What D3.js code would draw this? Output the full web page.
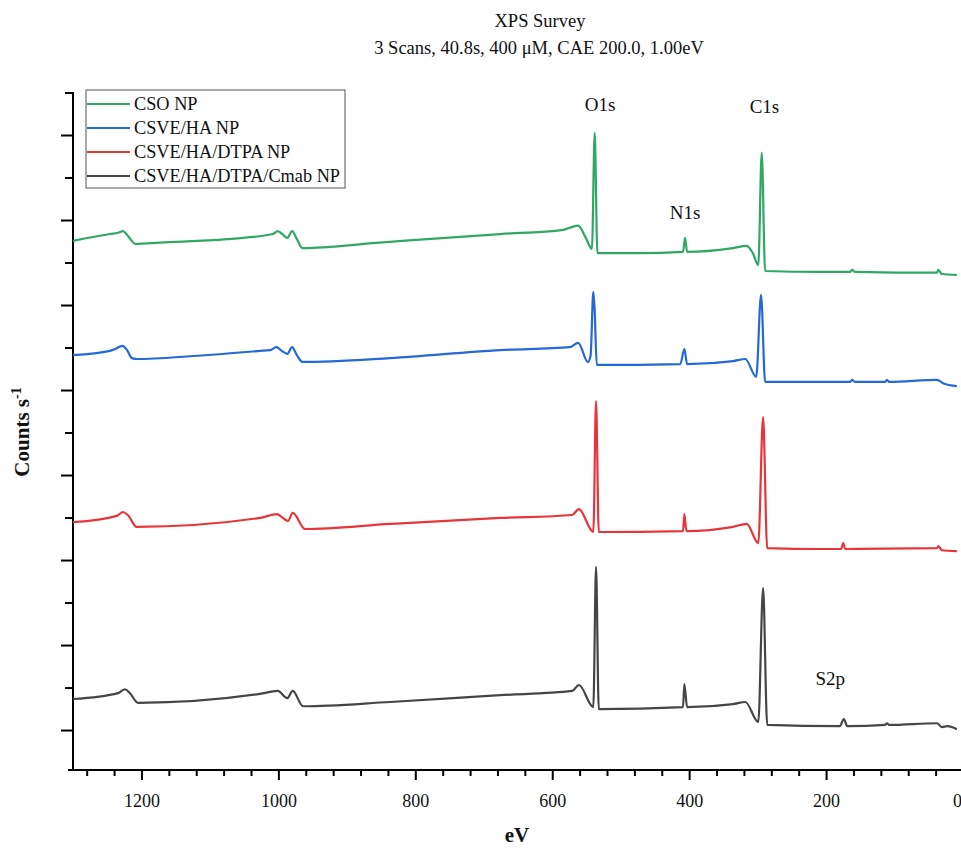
<!DOCTYPE html>
<html>
<head>
<meta charset="utf-8">
<script src="https://cdn.jsdelivr.net/npm/d3@7"></script>
<style>
  body { margin: 0; background: #fff; }
  text { font-family: "Liberation Serif", "Times New Roman", serif; fill: #111; }
  .axis path, .axis line { stroke: #000; stroke-width: 2; }
  .axis text { font-family: "Liberation Serif", "Times New Roman", serif; font-size: 18px; }
  .spec { fill: none; stroke-width: 2.2; stroke-linejoin: round; }
</style>
</head>
<body>
<div class="container"></div>
<script>
var width = 961,
    height = 850;

// spectra, [binding energy eV, counts s-1 (thousands)]
var cso = [[1300,125.1],[1246,126.7],[1234,127.0],[1227,127.4],[1220,126.3],[1209,124.4],[1173,124.7],
  [1075,125.5],[1008,126.7],[1001,127.4],[993,126.5],[987,125.8],[980,127.4],[973,125.5],[965,123.4],
  [852,124.7],[676,126.7],[584,127.7],[574,128.2],[562,128.7],[551,125.8],[542,123.2],[538,150.5],
  [534,122.2],[472,122.2],[409,122.5],[406,125.8],[403,122.5],[336,123.4],[316,123.9],[307,122.2],
  [299,119.4],[294,145.8],[289,118.0],[209,117.8],[165,117.8],[162,118.3],[158,117.8],[38,117.6],
  [36,118.3],[31,117.3],[9,117.1]];

var csveHa = [[1300,98.2],[1246,99.2],[1239,99.6],[1228,100.4],[1221,99.4],[1214,97.5],[1207,97.3],
  [1125,98.0],[1027,99.2],[1012,99.4],[1003,100.1],[995,99.2],[987,98.5],[980,100.1],[973,98.2],
  [965,96.6],[837,97.5],[676,99.4],[574,100.1],[562,101.1],[548,96.6],[544,98.0],[540,113.1],
  [538,108.8],[535,95.9],[413,96.1],[407,99.6],[403,96.1],[336,96.8],[318,97.3],[302,93.1],
  [295,112.4],[289,91.9],[165,91.9],[162,92.4],[158,91.9],[114,91.9],[111,92.4],[108,91.9],
  [38,92.4],[29,91.6],[9,90.9]];

var csveHaDtpa = [[1300,58.9],[1236,60.4],[1227,61.3],[1220,60.6],[1207,57.8],[1027,59.9],[1002,60.8],
  [995,60.1],[986,59.2],[979,61.1],[961,57.3],[837,58.5],[676,59.9],[571,60.6],[561,62.0],[540,56.6],
  [536,87.4],[532,56.6],[409,56.8],[407,60.8],[404,56.8],[336,57.8],[316,58.5],[299,54.0],[292,83.6],
  [286,52.8],[209,52.6],[178,52.6],[175,54.0],[172,52.6],[38,52.8],[36,53.3],[31,52.3],[9,52.1]];

var csveHaDtpaCmab = [[1300,17.3],[1234,18.7],[1224,19.6],[1217,18.7],[1205,16.4],[1027,18.5],[1001,19.2],
  [987,17.5],[979,19.2],[964,15.6],[837,16.6],[676,18.2],[571,19.2],[561,20.6],[540,15.4],[536,48.4],
  [532,14.9],[409,15.4],[407,20.8],[403,15.4],[336,16.1],[318,16.6],[299,11.9],[292,43.4],[286,11.2],
  [180,10.9],[174,12.6],[169,10.9],[114,11.2],[111,11.6],[108,11.2],[38,11.6],[31,10.7],[23,10.9],
  [9,10.2]];

var seriesNames = ["CSO NP", "CSVE/HA NP", "CSVE/HA/DTPA NP", "CSVE/HA/DTPA/Cmab NP"];
var seriesColors = ["#30a865", "#2469d6", "#e8353b", "#454545"];
var seriesData = [cso, csveHa, csveHaDtpa, csveHaDtpaCmab];

// peak labels [text, eV, counts]
var peakLabels = [["O1s", 530, 155.6], ["C1s", 290, 155.2], ["N1s", 406, 130.2], ["S2p", 194, 20.6]];

var xMajor = [1200, 1000, 800, 600, 400, 200, 0];
var xMinor = d3.range(1280, -1, -40).filter(function(d) { return d % 200 !== 0; });
var yMajor = [10, 30, 50, 70, 90, 110, 130, 150];
var yMinor = [20, 40, 60, 80, 100, 120, 140, 160];

var x = d3.scaleLinear().domain([1300, 0]).range([73, 963]);
var y = d3.scaleLinear().domain([0.6, 160]).range([770, 92.5]);

var svg = d3.select(".container").append("svg")
    .attr("width", width)
    .attr("height", height);

// ---------- AXES ----------
svg.append("g")
    .attr("class", "axis")
    .attr("transform", "translate(0,770)")
    .call(d3.axisBottom(x).tickValues(xMinor).tickSize(6).tickSizeOuter(0).tickFormat(""))
    .select(".domain").remove();

var xg = svg.append("g")
    .attr("class", "axis")
    .attr("transform", "translate(0,770)")
    .call(d3.axisBottom(x).tickValues(xMajor).tickSize(10).tickSizeOuter(0)
      .tickPadding(14).tickFormat(d3.format("d")));
xg.select(".domain").attr("d", "M68,0H963");
// the "0" sits on the page edge, pull it in a little
xg.selectAll(".tick text").filter(function(d) { return d === 0; }).attr("x", -6);

svg.append("g")
    .attr("class", "axis")
    .attr("transform", "translate(73,0)")
    .call(d3.axisLeft(y).tickValues(yMinor).tickSize(8).tickSizeOuter(0).tickFormat(""))
    .select(".domain").remove();

svg.append("g")
    .attr("class", "axis")
    .attr("transform", "translate(73,0)")
    .call(d3.axisLeft(y).tickValues(yMajor).tickSize(12).tickSizeOuter(0).tickFormat(""))
    .select(".domain").attr("d", "M0,770V92");

// axis titles
svg.append("text")
    .attr("x", 517).attr("y", 842)
    .attr("text-anchor", "middle")
    .style("font-size", "21px").style("font-weight", "bold")
    .text("eV");

var yl = svg.append("text")
    .attr("transform", "translate(29,432) rotate(-90)")
    .attr("text-anchor", "middle")
    .style("font-size", "21px").style("font-weight", "bold");
yl.append("tspan").text("Counts s");
yl.append("tspan").attr("dy", -8).style("font-size", "14px").text("-1");

// titles
svg.append("text")
    .attr("x", 540).attr("y", 27)
    .attr("text-anchor", "middle")
    .style("font-size", "18.5px")
    .text("XPS Survey");
svg.append("text")
    .attr("x", 539).attr("y", 54)
    .attr("text-anchor", "middle")
    .style("font-size", "18.5px")
    .text("3 Scans, 40.8s, 400 \u03bcM, CAE 200.0, 1.00eV");

// ---------- SPECTRA ----------
var line = d3.line()
    .curve(d3.curveMonotoneX)
    .x(function(d) { return x(d[0]); })
    .y(function(d) { return y(d[1]); });

svg.selectAll(".spec")
    .data(seriesData)
    .enter().append("path")
    .attr("class", "spec")
    .attr("d", line)
    .style("stroke", function(d, i) { return seriesColors[i]; });

svg.selectAll(".peak")
    .data(peakLabels)
    .enter().append("text")
    .attr("class", "peak")
    .attr("x", function(d) { return x(d[1]); })
    .attr("y", function(d) { return y(d[2]); })
    .attr("text-anchor", "middle")
    .style("font-size", "19px")
    .text(function(d) { return d[0]; });

// ---------- LEGEND ----------
var legend = svg.append("g");
legend.append("rect")
    .attr("x", 86).attr("y", 90)
    .attr("width", 259).attr("height", 98)
    .attr("fill", "#fff")
    .attr("stroke", "#555")
    .attr("stroke-width", 1);

var rows = legend.selectAll(".row")
    .data(seriesNames)
    .enter().append("g")
    .attr("transform", function(d, i) { return "translate(0," + (104 + i * 24) + ")"; });
rows.append("line")
    .attr("x1", 87).attr("x2", 130)
    .attr("stroke-width", 2.2)
    .attr("stroke", function(d, i) { return seriesColors[i]; });
rows.append("text")
    .attr("x", 134).attr("y", 6)
    .style("font-size", "18.3px")
    .text(function(d) { return d; });
</script>
</body>
</html>
